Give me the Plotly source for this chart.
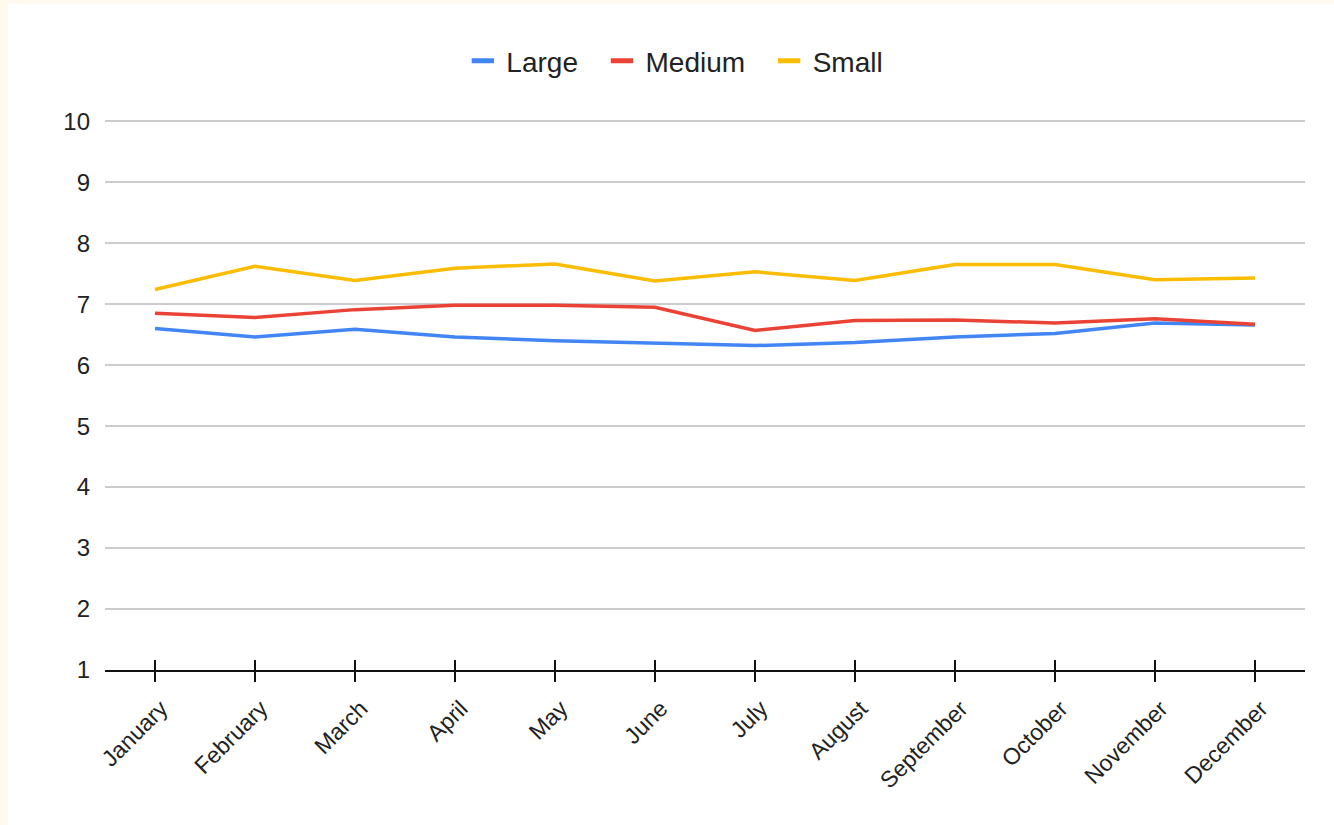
import plotly.graph_objects as go

months = ["January", "February", "March", "April", "May", "June",
          "July", "August", "September", "October", "November", "December"]
large = [6.60, 6.46, 6.59, 6.46, 6.40, 6.36, 6.32, 6.37, 6.46, 6.52, 6.69, 6.66]
medium = [6.85, 6.78, 6.91, 6.98, 6.98, 6.95, 6.57, 6.73, 6.74, 6.69, 6.76, 6.67]
small = [7.24, 7.62, 7.39, 7.59, 7.66, 7.38, 7.53, 7.39, 7.65, 7.65, 7.40, 7.43]

# the last series sits on the overlay axis, which carries the upward tick marks
series = [("Large", large, "#4285F4", "x"),
          ("Medium", medium, "#EA4335", "x"),
          ("Small", small, "#FBBC04", "x2")]

FONT = "Liberation Sans, Arial, sans-serif"
positions = list(range(len(months)))
PAD = "\u00a0\u00a0"  # breathing room after each legend label

fig = go.Figure()
for name, vals, color, xax in series:
    fig.add_trace(go.Scatter(x=positions, y=vals, name=name, mode="lines",
                             xaxis=xax, yaxis="y", showlegend=False,
                             line=dict(color=color, width=3.5)))
# legend entries drawn as short thick dashes
for name, vals, color, xax in series:
    fig.add_trace(go.Scatter(x=[None], y=[None], name=name + PAD, mode="markers",
                             xaxis="x", yaxis="y",
                             marker=dict(symbol="line-ew", size=22,
                                         line=dict(color=color, width=6))))

axis_range = [-0.5, len(months) - 0.5]
tick_line = dict(ticklen=10, tickwidth=2, tickcolor="#111111")

fig.update_layout(
    width=1334, height=825,
    margin=dict(l=105, r=29, t=120, b=155),
    paper_bgcolor="white", plot_bgcolor="white",
    font=dict(family=FONT, color="#222222", size=23),
    showlegend=True,
    legend=dict(orientation="h", x=0.4803, xanchor="center",
                y=1.107, yanchor="middle",
                font=dict(size=28, color="#222222"),
                itemwidth=37, tracegroupgap=0),
    xaxis=dict(range=axis_range, tickvals=positions, ticktext=months,
               tickangle=-45, showgrid=False, zeroline=False,
               showline=True, linecolor="#111111", linewidth=2,
               ticks="outside", ticklabelstandoff=4, ticklabelshift=6,
               tickfont=dict(size=23, color="#222222"), **tick_line),
    xaxis2=dict(range=axis_range, tickvals=positions, overlaying="x",
                anchor="y", side="bottom", showticklabels=False,
                showgrid=False, zeroline=False, showline=False,
                ticks="inside", **tick_line),
    yaxis=dict(range=[1, 10.02], tickvals=list(range(1, 11)), showgrid=True,
               gridcolor="#CCCCCC", gridwidth=1.5, zeroline=False,
               showline=False, ticks="", ticklabelstandoff=14,
               tickfont=dict(size=24, color="#222222")),
)

# cream frame strips along the left and top page edges
W, H = 1200, 550
fig.add_shape(type="rect", xref="paper", yref="paper",
              x0=-105 / W, x1=-97 / W, y0=-155 / H, y1=1 + 120 / H,
              fillcolor="#FFF9EE", line_width=0, layer="below")
fig.add_shape(type="rect", xref="paper", yref="paper",
              x0=-105 / W, x1=1 + 29 / W, y0=1 + 116.5 / H, y1=1 + 120 / H,
              fillcolor="#FFF9EE", line_width=0, layer="below")

fig.write_html("out.html")
